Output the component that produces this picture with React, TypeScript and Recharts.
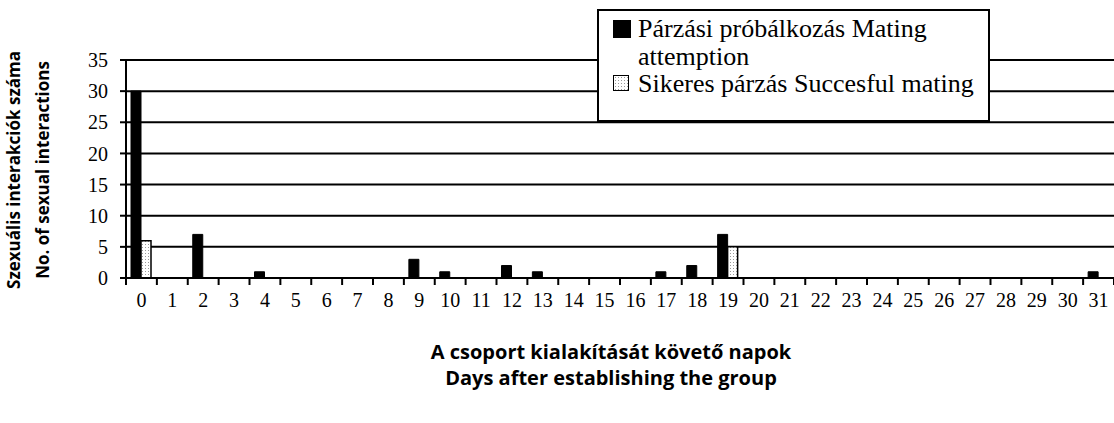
import React from "react";
import { BarChart, Bar, XAxis, YAxis, CartesianGrid, Legend } from "recharts";

const days = Array.from({ length: 32 }, (_, i) => String(i));
const attemptValues: Record<string, number> = { "0": 30, "2": 7, "4": 1, "9": 3, "10": 1, "12": 2, "13": 1, "17": 1, "18": 2, "19": 7, "31": 1 };
const successValues: Record<string, number> = { "0": 6, "19": 5 };
const yTicks = [0, 5, 10, 15, 20, 25, 30, 35];
const seriesNames = ["Párzási próbálkozás Mating attemption", "Sikeres párzás Succesful mating"];
const yTitle = ["Szexuális interakciók száma", "No. of sexual interactions"];
const xTitle = ["A csoport kialakítását követő napok", "Days after establishing the group"];

const data = days.map((d) => ({ day: d, attempt: attemptValues[d] ?? 0, success: successValues[d] ?? 0 }));

const serif = "'Liberation Serif', 'Times New Roman', serif";
const sans = "'Open Sans', 'Noto Sans', sans-serif";

const XTick = (props: any) => {
  const { x, y, payload, index } = props;
  const off = payload.offset ?? 0;
  const isLast = index === days.length - 1;
  return (
    <g>
      <line x1={x - off} y1={y - 8} x2={x - off} y2={y - 1} stroke="#000" strokeWidth={2} />
      {isLast && <line x1={x + off} y1={y - 8} x2={x + off} y2={y - 1} stroke="#000" strokeWidth={2} />}
      <text x={x} y={y + 21} textAnchor="middle" fontFamily={serif} fontSize={20} fill="#000">
        {payload.value}
      </text>
    </g>
  );
};

const LegendBox = () => (
  <div
    style={{
      width: 393,
      height: 113,
      boxSizing: "border-box",
      border: "2px solid #000",
      background: "#fff",
      position: "relative",
      fontFamily: serif,
      fontSize: 26,
      color: "#000",
    }}
  >
    <div style={{ position: "absolute", left: 14, top: 9, width: 18, height: 18, background: "#000" }} />
    <div style={{ position: "absolute", left: 39, top: 4, lineHeight: "28px", width: 340, whiteSpace: "normal" }}>
      {seriesNames[0]}
    </div>
    <div
      style={{
        position: "absolute",
        left: 14,
        top: 64,
        width: 16,
        height: 16,
        boxSizing: "border-box",
        border: "1.5px solid #000",
        backgroundColor: "#fff",
        backgroundImage: "radial-gradient(#999 0.6px, transparent 0.8px)",
        backgroundSize: "3px 3px",
      }}
    />
    <div style={{ position: "absolute", left: 39, top: 60, lineHeight: "26px", whiteSpace: "nowrap" }}>{seriesNames[1]}</div>
  </div>
);

export default function App() {
  return (
    <div style={{ position: "absolute", left: 0, top: 0, width: 1114, height: 423, background: "#fff" }}>
      <BarChart
        width={1114}
        height={423}
        data={data}
        margin={{ top: 60, right: 0, bottom: 0, left: 0 }}
        barGap={0}
        barSize={10}
      >
        <defs>
          <pattern id="dots" width="3" height="3" patternUnits="userSpaceOnUse">
            <rect width="3" height="3" fill="#fff" />
            <rect x="1" y="1" width="1" height="1" fill="#9a9a9a" />
          </pattern>
        </defs>
        <CartesianGrid vertical={false} stroke="#000" strokeWidth={2} strokeOpacity={1} />
        <XAxis
          dataKey="day"
          height={145}
          stroke="#000"
          strokeWidth={2}
          tickLine={false}
          interval={0}
          tick={<XTick />}
          label={{
            content: () => (
              <g fontFamily={sans} fontWeight={700} fontSize={20} fill="#000">
                <text x={611} y={359} textAnchor="middle">{xTitle[0]}</text>
                <text x={611} y={385} textAnchor="middle">{xTitle[1]}</text>
              </g>
            ),
          }}
        />
        <YAxis
          width={126}
          domain={[0, 35]}
          ticks={yTicks}
          interval={0}
          stroke="#000"
          strokeWidth={2}
          tickSize={6}
          tickMargin={12}
          tick={{ fontFamily: serif, fontSize: 20, fill: "#000" }}
          tickLine={{ stroke: "#000", strokeWidth: 2 }}
          label={{
            content: () => (
              <g fontFamily={sans} fontWeight={700} fontSize={17} fill="#000">
                <text x={20} y={170} textAnchor="middle" transform="rotate(-90 20 170)">{yTitle[0]}</text>
                <text x={49} y={170} textAnchor="middle" transform="rotate(-90 49 170)">{yTitle[1]}</text>
              </g>
            ),
          }}
        />
        <Legend
          layout="horizontal"
          verticalAlign="middle"
          align="center"
          wrapperStyle={{ left: 597, top: 9, width: 393, height: 113 }}
          content={() => <LegendBox />}
        />
        <Bar dataKey="attempt" name={seriesNames[0]} fill="#000" stroke="#000" strokeWidth={1} isAnimationActive={false} />
        <Bar dataKey="success" name={seriesNames[1]} fill="url(#dots)" stroke="#000" strokeWidth={1.5} isAnimationActive={false} />
      </BarChart>
    </div>
  );
}
